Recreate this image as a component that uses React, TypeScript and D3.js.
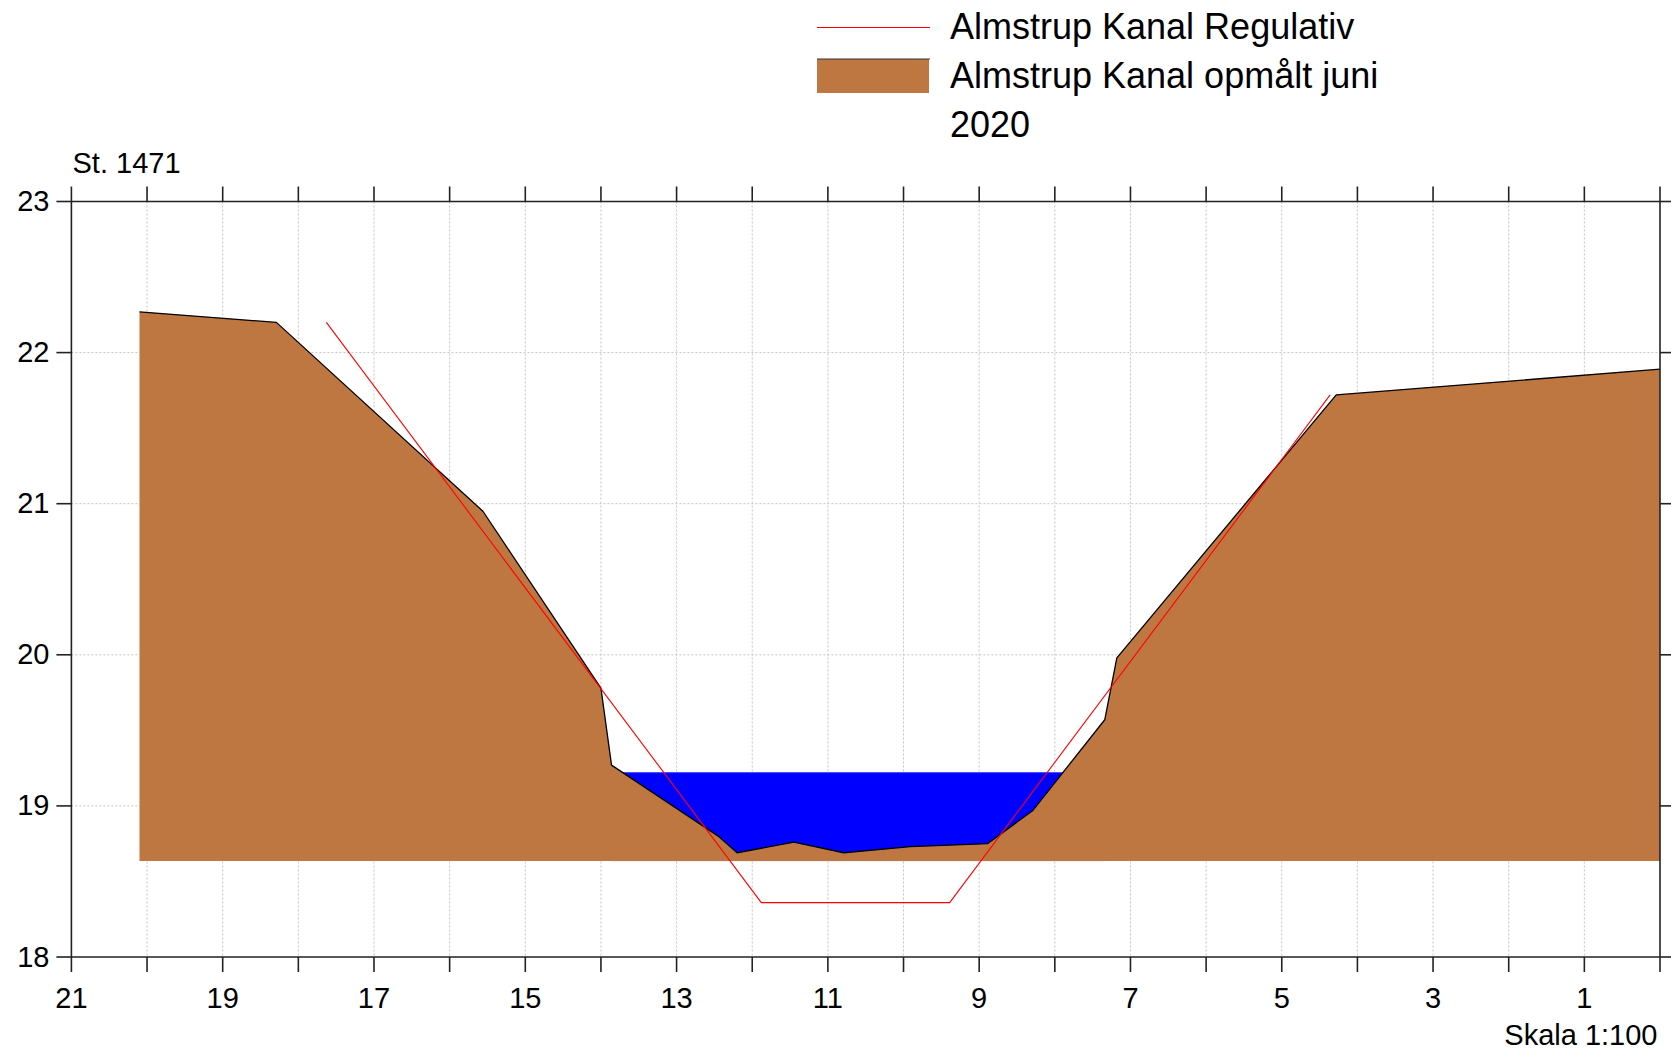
import React from "react";
import * as d3 from "d3";

// Surveyed terrain (opmålt juni 2020): station distance (m) and level (m)
const terrainX = [20.1, 18.29, 15.56, 14.0, 13.86, 12.45, 12.2, 11.45, 10.79, 9.91, 8.89, 8.29, 7.34, 7.18, 4.28, 0];
const terrainY = [22.27, 22.2, 20.95, 19.78, 19.27, 18.8, 18.69, 18.76, 18.69, 18.73, 18.75, 18.97, 19.57, 19.98, 21.72, 21.89];

// Regulativ profile
const regX = [17.63, 11.88, 9.39, 4.36];
const regY = [22.2, 18.36, 18.36, 21.72];

// Water level and the bottom of the drawn terrain body
const waterLevel = 19.22;
const waterFrom = 13.86;
const waterTo = 7.34;
const baseLevel = 18.635;

const xTicks = d3.range(0, 22);
const xLabels = [21, 19, 17, 15, 13, 11, 9, 7, 5, 3, 1];
const yTicks = [18, 19, 20, 21, 22, 23];

const stationLabel = "St. 1471";
const scaleLabel = "Skala 1:100";
const legendReg = "Almstrup Kanal Regulativ";
const legendTerrain1 = "Almstrup Kanal opmålt juni";
const legendTerrain2 = "2020";

const W = 1671;
const H = 1055;
const margin = { left: 71.4, right: 1660, top: 201.5, bottom: 957 };

const FONT = "'Liberation Sans', Arial, Helvetica, sans-serif";
const BROWN = "#BF7742";

export default function App() {
  const x = d3.scaleLinear().domain([21, 0]).range([margin.left, margin.right]);
  const y = d3.scaleLinear().domain([18, 23]).range([margin.bottom, margin.top]);

  const terrain = terrainX.map((v, i) => [v, terrainY[i]] as [number, number]);
  const reg = regX.map((v, i) => [v, regY[i]] as [number, number]);

  const area = d3
    .area<[number, number]>()
    .x((d) => x(d[0]))
    .y0(() => y(baseLevel))
    .y1((d) => y(d[1]));
  const line = d3
    .line<[number, number]>()
    .x((d) => x(d[0]))
    .y((d) => y(d[1]));

  const axisColor = "#222";
  const tick = 15;

  return (
    <svg
      width={W}
      height={H}
      style={{ position: "absolute", left: 0, top: 0, background: "#fff" }}
      fontFamily={FONT}
    >
      {/* grid */}
      {xTicks
        .filter((t) => t > 0 && t < 21)
        .map((t) => (
          <line
            key={"gx" + t}
            x1={x(t)}
            x2={x(t)}
            y1={y(23)}
            y2={y(18)}
            stroke="#c4c4c4"
            strokeWidth={1}
            strokeDasharray="2,2"
          />
        ))}
      {yTicks
        .filter((t) => t > 18 && t < 23)
        .map((t) => (
          <line
            key={"gy" + t}
            x1={x(21)}
            x2={x(0)}
            y1={y(t)}
            y2={y(t)}
            stroke="#c4c4c4"
            strokeWidth={1}
            strokeDasharray="2,2"
          />
        ))}

      {/* water */}
      <rect
        x={x(waterFrom)}
        y={y(waterLevel)}
        width={x(waterTo) - x(waterFrom)}
        height={y(baseLevel) - y(waterLevel)}
        fill="#0000ff"
      />
      <line
        x1={x(waterFrom)}
        x2={x(waterTo)}
        y1={y(waterLevel)}
        y2={y(waterLevel)}
        stroke="#3a3aff"
        strokeWidth={1}
      />

      {/* terrain */}
      <path d={area(terrain) || ""} fill={BROWN} stroke="none" />
      <path d={line(terrain) || ""} fill="none" stroke="#000" strokeWidth={1.3} strokeLinejoin="round" />

      {/* regulativ */}
      <path d={line(reg) || ""} fill="none" stroke="#ff0000" strokeWidth={1.1} />

      {/* axes frame */}
      <line x1={x(21)} x2={x(0)} y1={y(18)} y2={y(18)} stroke={axisColor} strokeWidth={1.6} />
      <line x1={x(21)} x2={x(0)} y1={y(23)} y2={y(23)} stroke={axisColor} strokeWidth={1.6} />
      <line x1={x(21)} x2={x(21)} y1={y(23)} y2={y(18)} stroke={axisColor} strokeWidth={1.6} />
      <line x1={x(0)} x2={x(0)} y1={y(23)} y2={y(18)} stroke={axisColor} strokeWidth={1.6} />

      {/* x ticks */}
      {xTicks.map((t) => (
        <g key={"xt" + t}>
          <line x1={x(t)} x2={x(t)} y1={y(18)} y2={y(18) + tick} stroke={axisColor} strokeWidth={1.6} />
          <line x1={x(t)} x2={x(t)} y1={y(23)} y2={y(23) - tick} stroke={axisColor} strokeWidth={1.6} />
        </g>
      ))}
      {xLabels.map((t) => (
        <text key={"xl" + t} x={x(t)} y={y(18) + 51} textAnchor="middle" fontSize={29} fill="#000">
          {t}
        </text>
      ))}

      {/* y ticks */}
      {yTicks.map((t) => (
        <g key={"yt" + t}>
          <line x1={x(21)} x2={x(21) - tick} y1={y(t)} y2={y(t)} stroke={axisColor} strokeWidth={1.6} />
          <line x1={x(0)} x2={x(0) + tick} y1={y(t)} y2={y(t)} stroke={axisColor} strokeWidth={1.6} />
          <text x={49.5} y={y(t) + 9.5} textAnchor="end" fontSize={29} fill="#000">
            {t}
          </text>
        </g>
      ))}

      <text x={72.5} y={173} fontSize={29} fill="#000">
        {stationLabel}
      </text>
      <text x={1657.5} y={1045} fontSize={29} textAnchor="end" fill="#000">
        {scaleLabel}
      </text>

      {/* legend */}
      <line x1={817} x2={930} y1={27.5} y2={27.5} stroke="#ff0000" strokeWidth={1} />
      <rect x={817} y={59} width={112} height={34} fill={BROWN} />
      <line x1={817} x2={930} y1={59} y2={59} stroke="#333" strokeWidth={1.2} />
      <text x={950} y={38.5} fontSize={36} fill="#000">
        {legendReg}
      </text>
      <text x={950} y={87.5} fontSize={36} fill="#000">
        {legendTerrain1}
      </text>
      <text x={950} y={136.5} fontSize={36} fill="#000">
        {legendTerrain2}
      </text>
    </svg>
  );
}
